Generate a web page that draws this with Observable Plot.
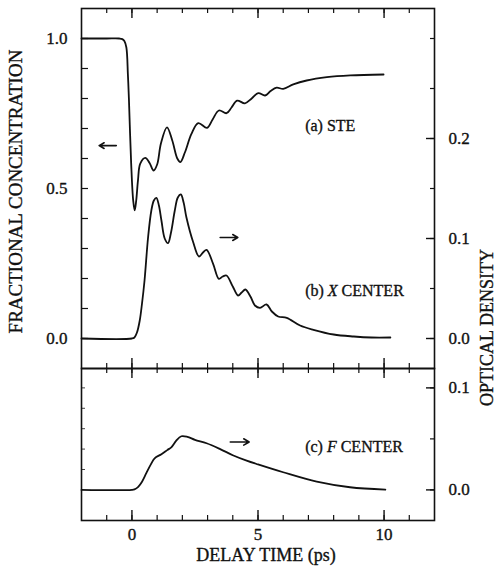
<!DOCTYPE html>
<html>
<head>
<meta charset="utf-8">
<script src="https://cdn.jsdelivr.net/npm/d3@7"></script>
<script src="https://cdn.jsdelivr.net/npm/@observablehq/plot@0.6"></script>
<style>
  body { margin: 0; background: #fff; }
  #chart { position: relative; width: 497px; height: 569px; }
</style>
</head>
<body>
<div id="chart"></div>
<script>
// (a) self-trapped exciton: fractional concentration vs delay time (ps)
const steTime = [-2.0, -1.0, -0.5, -0.38, -0.3, -0.22, -0.16, -0.12, -0.03, 0.05, 0.11, 0.17, 0.24, 0.33, 0.53, 0.7, 0.86, 1.0, 1.15, 1.39, 1.6, 1.8, 1.92, 2.1, 2.36, 2.63, 2.98, 3.2, 3.45, 3.75, 3.95, 4.17, 4.48, 4.75, 5.01, 5.28, 5.5, 5.74, 6.0, 6.4, 6.93, 7.73, 8.66, 9.98];
const steConc = [1.0, 1.0, 1.0, 0.998, 0.992, 0.97, 0.88, 0.8, 0.583, 0.46, 0.427, 0.46, 0.527, 0.583, 0.602, 0.585, 0.56, 0.58, 0.65, 0.704, 0.66, 0.6, 0.588, 0.62, 0.682, 0.718, 0.702, 0.73, 0.76, 0.751, 0.77, 0.793, 0.784, 0.8, 0.818, 0.81, 0.825, 0.836, 0.832, 0.847, 0.86, 0.871, 0.877, 0.88];

// (b) X center: optical density vs delay time (ps)
const xTime = [-2.0, 0.0, 0.1, 0.2, 0.31, 0.4, 0.5, 0.64, 0.77, 0.87, 0.97, 1.07, 1.17, 1.3, 1.43, 1.55, 1.7, 1.82, 1.94, 2.05, 2.16, 2.43, 2.66, 2.82, 2.96, 3.22, 3.45, 3.6, 3.75, 4.0, 4.21, 4.35, 4.5, 4.7, 4.88, 5.08, 5.34, 5.55, 5.8, 6.14, 6.67, 7.2, 8.0, 8.8, 9.5, 10.25];
const xOD = [0, 0, 0.001, 0.006, 0.018, 0.035, 0.058, 0.101, 0.128, 0.138, 0.1407, 0.133, 0.118, 0.1, 0.0953, 0.106, 0.128, 0.141, 0.144, 0.136, 0.1213, 0.0963, 0.082, 0.086, 0.0887, 0.0747, 0.0597, 0.062, 0.063, 0.052, 0.043, 0.046, 0.049, 0.042, 0.033, 0.0307, 0.034, 0.027, 0.022, 0.0207, 0.013, 0.0087, 0.004, 0.002, 0.001, 0.001];

// (c) F center: optical density vs delay time (ps)
const fTime = [-2.0, 0.0, 0.1, 0.25, 0.4, 0.57, 0.75, 0.9, 1.17, 1.4, 1.57, 1.75, 1.96, 2.2, 2.5, 2.96, 3.5, 4.0, 4.55, 5.0, 6.0, 7.33, 8.65, 10.05];
const fOD = [0, 0, 0.0005, 0.003, 0.008, 0.0164, 0.025, 0.031, 0.035, 0.039, 0.042, 0.048, 0.0526, 0.052, 0.049, 0.0457, 0.04, 0.034, 0.0287, 0.025, 0.0173, 0.0081, 0.0026, 0.0003];

// axis ticks and labels
const timeMinor = [-1, 0, 1, 2, 3, 4, 5, 6, 7, 8, 9, 10, 11];
const timeMajor = [0, 5, 10];
const concMinor = [0, 0.1, 0.2, 0.3, 0.4, 0.5, 0.6, 0.7, 0.8, 0.9, 1.0];
const concMajor = [0, 0.5, 1.0];
const odTopMinor = [0, 0.05, 0.1, 0.15, 0.2, 0.25, 0.3];
const odTopMajor = [0, 0.1, 0.2];
const odBotMinor = [0, 0.05, 0.1];
const odBotMajor = [0, 0.1];
const odBotLeft = [0.02, 0.04, 0.06, 0.08, 0.1];

const ste = steTime.map((t, i) => ({t, v: steConc[i]}));
const xc = xTime.map((t, i) => ({t, v: xOD[i]}));
const fc = fTime.map((t, i) => ({t, v: fOD[i]}));

const W = 497, H = 569, ML = 81, MR = 63;
const FW = W - ML - MR;           // frame width
const TOP = {mt: 8, mb: 201};     // upper panel
const BOT = {mt: 368, mb: 49};    // lower panel
const TH = H - TOP.mt - TOP.mb;
const BH = H - BOT.mt - BOT.mb;
const fmt = d3.format(".1f");
const font = "'Liberation Serif', 'Times New Roman', serif";
const ink = "#111";
const txt = {fill: ink, stroke: ink, strokeWidth: 0.35};

function panel(p, y, marks) {
  return Plot.plot({
    width: W, height: H,
    marginLeft: ML, marginRight: MR, marginTop: p.mt, marginBottom: p.mb,
    x: {domain: [-2, 12], axis: null},
    y: {...y, axis: null},
    style: {fontFamily: font, fontSize: "17px", color: ink, background: "transparent",
            overflow: "visible", position: "absolute", left: "0px", top: "0px"},
    marks
  });
}

// upper panel, left scale: STE fractional concentration
const upperLeft = panel(TOP, {domain: [-0.1, 1.1]}, [
  Plot.frame({stroke: ink, strokeWidth: 1.6}),
  Plot.tickY(concMinor, {y: d => d, insetRight: FW - 7, stroke: ink, strokeWidth: 1.2}),
  Plot.tickX(timeMinor, {x: d => d, insetBottom: TH - 5, stroke: ink, strokeWidth: 1.2}),
  Plot.tickX(timeMajor, {x: d => d, insetBottom: TH - 10, stroke: ink, strokeWidth: 1.4}),
  Plot.tickX(timeMinor, {x: d => d, insetTop: TH - 5, stroke: ink, strokeWidth: 1.2}),
  Plot.tickX(timeMajor, {x: d => d, insetTop: TH - 10, stroke: ink, strokeWidth: 1.4}),
  Plot.text(concMajor, {y: d => d, text: d => fmt(d), frameAnchor: "left", dx: -14, textAnchor: "end", ...txt}),
  Plot.text(["FRACTIONAL CONCENTRATION"], {frameAnchor: "left", textAnchor: "middle", dx: -66, dy: 3, rotate: -90, fontSize: 19, ...txt}),
  Plot.line(ste, {x: "t", y: "v", curve: "catmull-rom", stroke: ink, strokeWidth: 1.8}),
  Plot.arrow([{x1: -0.62, x2: -1.3, y: 0.643}], {x1: "x1", x2: "x2", y1: "y", y2: "y", stroke: ink, strokeWidth: 1.6, headLength: 7}),
  Plot.text([{t: 6.87, v: 0.71}], {x: "t", y: "v", text: () => "(a) STE", textAnchor: "start", fontSize: 16, ...txt})
]);

// upper panel, right scale: X center optical density
const upperRight = panel(TOP, {domain: [-0.03, 0.33]}, [
  Plot.tickY(odTopMinor, {y: d => d, insetLeft: FW - 4, stroke: ink, strokeWidth: 1.2}),
  Plot.tickY(odTopMajor, {y: d => d, insetLeft: FW - 8, stroke: ink, strokeWidth: 1.4}),
  Plot.text(odTopMajor, {y: d => d, text: d => fmt(d), frameAnchor: "right", dx: 14, textAnchor: "start", ...txt}),
  Plot.line(xc, {x: "t", y: "v", curve: "catmull-rom", stroke: ink, strokeWidth: 1.8}),
  Plot.arrow([{x1: 3.5, x2: 4.2, y: 0.101}], {x1: "x1", x2: "x2", y1: "y", y2: "y", stroke: ink, strokeWidth: 1.6, headLength: 7}),
  Plot.text([{t: 6.87, v: 0.048}], {x: "t", y: "v", text: () => "(b) X CENTER", textAnchor: "start", fontSize: 16, ...txt})
]);

// lower panel: F center optical density
const lower = panel(BOT, {domain: [-0.03, 0.119]}, [
  Plot.frame({stroke: ink, strokeWidth: 1.6}),
  Plot.tickY(odBotLeft, {y: d => d, insetRight: FW - 4, stroke: ink, strokeWidth: 0.8}),
  Plot.tickY(odBotMinor, {y: d => d, insetLeft: FW - 4, stroke: ink, strokeWidth: 1.2}),
  Plot.tickY(odBotMajor, {y: d => d, insetLeft: FW - 8, stroke: ink, strokeWidth: 1.4}),
  Plot.tickX(timeMinor, {x: d => d, insetBottom: BH - 5, stroke: ink, strokeWidth: 1.2}),
  Plot.tickX(timeMajor, {x: d => d, insetBottom: BH - 10, stroke: ink, strokeWidth: 1.4}),
  Plot.tickX(timeMinor, {x: d => d, insetTop: BH - 5, stroke: ink, strokeWidth: 1.2}),
  Plot.tickX(timeMajor, {x: d => d, insetTop: BH - 10, stroke: ink, strokeWidth: 1.4}),
  Plot.text(odBotMajor, {y: d => d, text: d => fmt(d), frameAnchor: "right", dx: 14, textAnchor: "start", ...txt}),
  Plot.text(timeMajor, {x: d => d, text: d => String(d), frameAnchor: "bottom", dy: 19, ...txt}),
  Plot.text(["DELAY TIME (ps)"], {frameAnchor: "bottom", textAnchor: "middle", dx: 8, dy: 40, fontSize: 18, ...txt}),
  Plot.text(["OPTICAL DENSITY"], {frameAnchor: "right", textAnchor: "middle", dx: 53, dy: -117, rotate: -90, fontSize: 18, ...txt}),
  Plot.line(fc, {x: "t", y: "v", curve: "catmull-rom", stroke: ink, strokeWidth: 1.8}),
  Plot.arrow([{x1: 3.9, x2: 4.65, y: 0.047}], {x1: "x1", x2: "x2", y1: "y", y2: "y", stroke: ink, strokeWidth: 1.6, headLength: 7}),
  Plot.text([{t: 6.87, v: 0.0418}], {x: "t", y: "v", text: () => "(c) F CENTER", textAnchor: "start", fontSize: 16, ...txt})
]);

// set the center symbols X and F in italics
function italicize(svg, label, letter) {
  d3.select(svg).selectAll("text").each(function () {
    if (this.textContent !== label) return;
    const [pre, post] = label.split(letter);
    const t = d3.select(this);
    t.text(null);
    t.append("tspan").text(pre);
    t.append("tspan").attr("font-style", "italic").text(letter);
    t.append("tspan").text(post);
  });
}
italicize(upperRight, "(b) X CENTER", "X");
italicize(lower, "(c) F CENTER", "F");

const chart = document.getElementById("chart");
chart.append(upperLeft, upperRight, lower);
</script>
</body>
</html>
